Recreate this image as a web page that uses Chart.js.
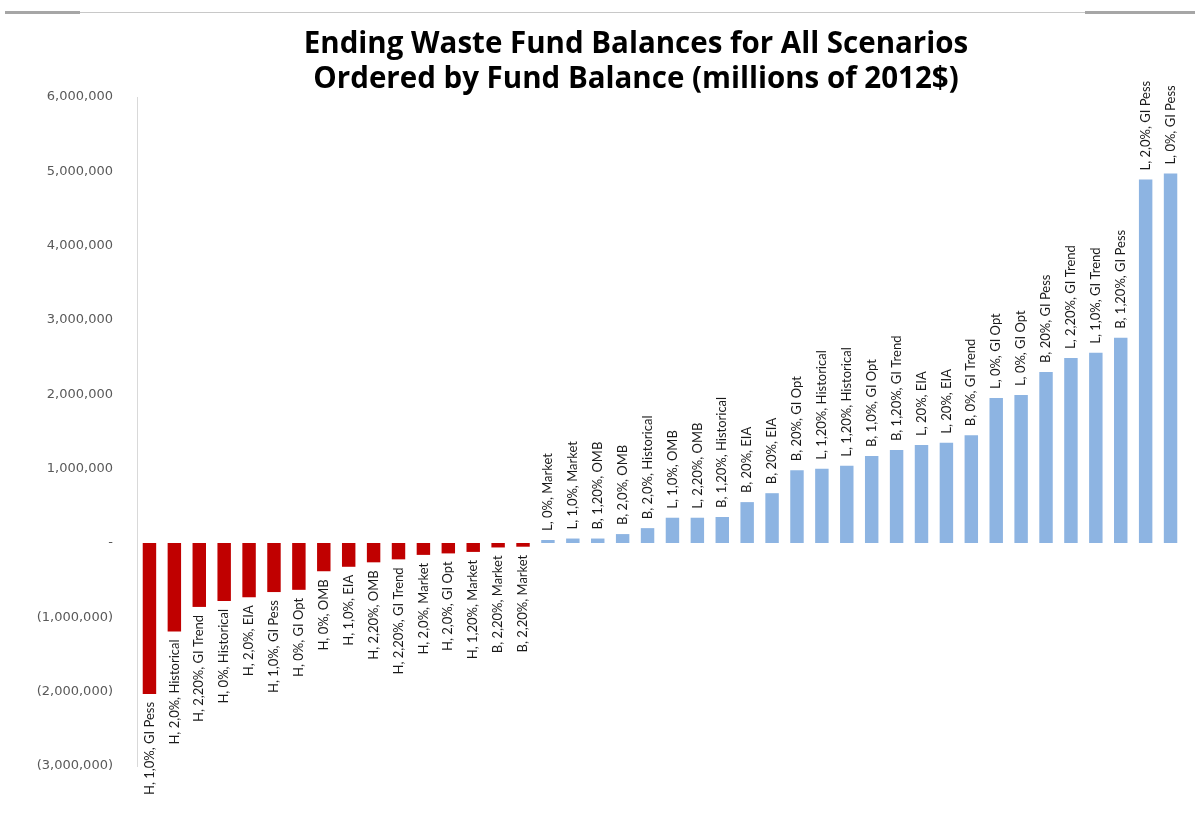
<!DOCTYPE html>
<html>
<head>
<meta charset="utf-8">
<script src="https://cdn.jsdelivr.net/npm/chart.js@4/dist/chart.umd.min.js"></script>
<style>
  html, body { margin: 0; padding: 0; background: #fff; }
  #wrap { position: relative; width: 1195px; height: 817px; }
  canvas { position: absolute; left: 0; top: 0; }
  .rule { position: absolute; top: 12px; left: 5px; width: 1190px; height: 1px; background: #c8c8c8; }
  .rule-l { position: absolute; top: 11px; left: 5px; width: 75px; height: 3px; background: #a6a6a6; }
  .rule-r { position: absolute; top: 11px; left: 1085px; width: 110px; height: 3px; background: #a6a6a6; }
  #title { position: absolute; left: 0; width: 1272px; top: 24px; text-align: center;
           font: bold 29.5px/35px "Open Sans", sans-serif; color: #000; }
</style>
</head>
<body>
<div id="wrap">
  <canvas id="fundChart" width="1195" height="817"></canvas>
  <div class="rule"></div><div class="rule-l"></div><div class="rule-r"></div>
  <div id="title">Ending Waste Fund Balances for All Scenarios<br>Ordered by Fund Balance (millions of 2012$)</div>
</div>
<script>
var scenarios = [
  'H, 1,0%, GI Pess', 'H, 2,0%, Historical', 'H, 2,20%, GI Trend', 'H, 0%, Historical',
  'H, 2,0%, EIA', 'H, 1,0%, GI Pess', 'H, 0%, GI Opt', 'H, 0%, OMB',
  'H, 1,0%, EIA', 'H, 2,20%, OMB', 'H, 2,20%, GI Trend', 'H, 2,0%, Market',
  'H, 2,0%, GI Opt', 'H, 1,20%, Market', 'B, 2,20%, Market', 'B, 2,20%, Market',
  'L, 0%, Market', 'L, 1,0%, Market', 'B, 1,20%, OMB', 'B, 2,0%, OMB',
  'B, 2,0%, Historical', 'L, 1,0%, OMB', 'L, 2,20%, OMB', 'B, 1,20%, Historical',
  'B, 20%, EIA', 'B, 20%, EIA', 'B, 20%, GI Opt', 'L, 1,20%, Historical',
  'L, 1,20%, Historical', 'B, 1,0%, GI Opt', 'B, 1,20%, GI Trend', 'L, 20%, EIA',
  'L, 20%, EIA', 'B, 0%, GI Trend', 'L, 0%, GI Opt', 'L, 0%, GI Opt',
  'B, 20%, GI Pess', 'L, 2,20%, GI Trend', 'L, 1,0%, GI Trend', 'B, 1,20%, GI Pess',
  'L, 2,0%, GI Pess', 'L, 0%, GI Pess'
];
var balances = [
  -2030000, -1190000, -860000, -780000, -730000, -660000, -630000, -380000,
  -320000, -260000, -220000, -160000, -140000, -120000, -60000, -50000,
  40000, 60000, 60000, 120000, 200000, 340000, 340000, 350000,
  550000, 670000, 980000, 1000000, 1040000, 1170000, 1250000, 1320000,
  1350000, 1450000, 1950000, 1990000, 2300000, 2490000, 2560000, 2760000,
  4890000, 4970000
];
var yTicks = [-3000000, -2000000, -1000000, 0, 1000000, 2000000, 3000000, 4000000, 5000000, 6000000];

var barColors = balances.map(function (v) { return v < 0 ? '#C00000' : '#8DB4E2'; });

function fmt(v) {
  if (v === 0) return '-';
  var s = Math.abs(v).toLocaleString('en-US');
  return v < 0 ? '(' + s + ')' : s;
}

// category names written at the end of each bar, rotated
var barLabels = {
  id: 'barLabels',
  afterDatasetsDraw: function (chart) {
    var ctx = chart.ctx;
    var meta = chart.getDatasetMeta(0);
    ctx.save();
    ctx.font = '13px Lato';
    ctx.fillStyle = '#1a1a1a';
    ctx.textBaseline = 'middle';
    meta.data.forEach(function (bar, i) {
      var neg = balances[i] < 0;
      ctx.save();
      ctx.translate(bar.x, bar.y + (neg ? 8 : -9));
      ctx.rotate(-Math.PI / 2);
      ctx.textAlign = neg ? 'right' : 'left';
      ctx.fillText(scenarios[i], 0, 0);
      ctx.restore();
    });
    ctx.restore();
  }
};

new Chart(document.getElementById('fundChart'), {
  type: 'bar',
  data: {
    labels: scenarios,
    datasets: [{
      data: balances,
      backgroundColor: barColors,
      categoryPercentage: 1,
      barPercentage: 0.54
    }]
  },
  plugins: [barLabels],
  options: {
    responsive: false,
    animation: false,
    layout: { padding: { left: 0, right: 12, top: 97, bottom: 51 } },
    plugins: {
      legend: { display: false },
      tooltip: { enabled: false }
    },
    scales: {
      x: { display: false },
      y: {
        min: -3000000,
        max: 6000000,
        afterBuildTicks: function (s) { s.ticks = yTicks.map(function (v) { return { value: v }; }); },
        afterFit: function (s) { s.width = 137; },
        grid: { display: false, drawTicks: false },
        border: { display: true, color: '#d9d9d9', width: 1 },
        ticks: {
          padding: 24,
          color: '#595959',
          font: { family: 'DejaVu Sans', size: 13 },
          callback: function (v) { return fmt(v); }
        }
      }
    }
  }
});
</script>
</body>
</html>
